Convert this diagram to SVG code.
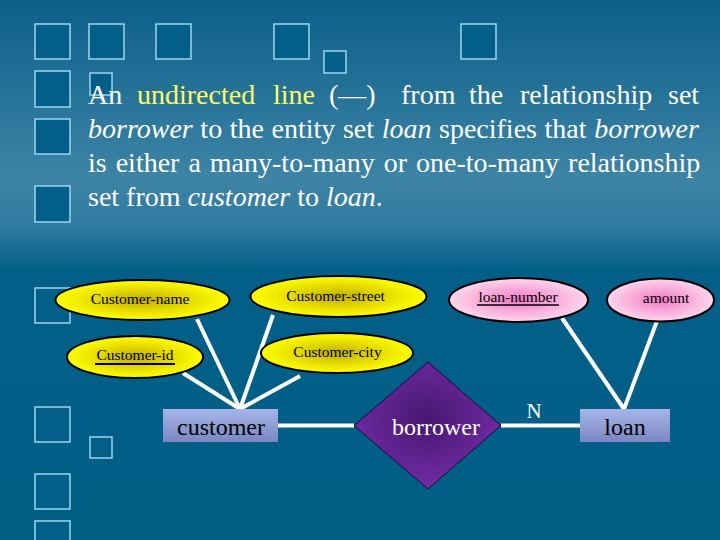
<svg xmlns="http://www.w3.org/2000/svg" width="720" height="540" viewBox="0 0 720 540">
<defs>
<linearGradient id="bg" x1="0" y1="0" x2="0" y2="1">
<stop offset="0" stop-color="#0c5f8a"/>
<stop offset="0.33" stop-color="#3d84a5"/>
<stop offset="0.42" stop-color="#2f7aa0"/>
<stop offset="0.5" stop-color="#035f88"/>
<stop offset="1" stop-color="#005e85"/>
</linearGradient>
<radialGradient id="yel" cx="0.5" cy="0.5" r="0.5">
<stop offset="0" stop-color="#bfae00"/>
<stop offset="0.55" stop-color="#e6dc00"/>
<stop offset="1" stop-color="#ffff00"/>
</radialGradient>
<radialGradient id="pink" cx="0.5" cy="0.5" r="0.5">
<stop offset="0" stop-color="#f07ac4"/>
<stop offset="1" stop-color="#ffd6ec"/>
</radialGradient>
<radialGradient id="purp" cx="0.5" cy="0.45" r="0.5">
<stop offset="0" stop-color="#471670"/>
<stop offset="1" stop-color="#6e2aa0"/>
</radialGradient>
<linearGradient id="ent" x1="0" y1="0" x2="0" y2="1">
<stop offset="0" stop-color="#a6b6e8"/>
<stop offset="1" stop-color="#7a86c2"/>
</linearGradient>
<style>
.sq{fill:#035e88;stroke:#9ad6f2;stroke-width:1.5}
.body{font-family:"Liberation Serif","Times New Roman",serif;font-size:28px;fill:#ffffff}
.it{font-style:italic}
.attr{font-family:"Liberation Serif","Times New Roman",serif;font-size:15.5px;fill:#000000;text-anchor:middle}
.yel{fill:url(#yel);stroke:#000;stroke-width:2}
.pink{fill:url(#pink);stroke:#000;stroke-width:2}
.ent{fill:url(#ent)}
.big{font-family:"Liberation Serif","Times New Roman",serif;font-size:24px;text-anchor:middle}
.edge{stroke:#ffffff;stroke-width:4;fill:none}
</style>
</defs>
<rect width="720" height="540" fill="url(#bg)"/>
<g id="decor">
<rect class="sq" x="35" y="24" width="35" height="35"/>
<rect class="sq" x="89" y="24" width="35" height="35"/>
<rect class="sq" x="156" y="24" width="35" height="35"/>
<rect class="sq" x="274" y="24" width="35" height="35"/>
<rect class="sq" x="461" y="24" width="35" height="35"/>
<rect class="sq" x="324" y="51" width="22" height="22"/>
<rect class="sq" x="35" y="71" width="35" height="36"/>
<rect class="sq" x="90" y="73" width="22" height="22"/>
<rect class="sq" x="35" y="119" width="35" height="35"/>
<rect class="sq" x="35" y="186" width="35" height="36"/>
<rect class="sq" x="35" y="288" width="35" height="35"/>
<rect class="sq" x="35" y="407" width="35" height="35"/>
<rect class="sq" x="90" y="437" width="22" height="21"/>
<rect class="sq" x="35" y="474" width="35" height="35"/>
<rect class="sq" x="35" y="521" width="35" height="35"/>
</g>
<g id="caption" class="body">
<text y="104"><tspan x="88">An</tspan><tspan x="137" fill="#ffff66">undirected</tspan><tspan x="273" fill="#ffff66">line</tspan><tspan x="329">(—)</tspan><tspan x="401">from</tspan><tspan x="469">the</tspan><tspan x="520">relationship</tspan><tspan x="668">set</tspan></text>
<text x="88" y="138" word-spacing="0.6"><tspan class="it">borrower</tspan> to the entity set <tspan class="it">loan</tspan> specifies that <tspan class="it">borrower</tspan></text>
<text x="88" y="172" word-spacing="2">is either a many-to-many or one-to-many relationship</text>
<text x="88" y="206">set from <tspan class="it">customer</tspan> to <tspan class="it">loan</tspan>.</text>
</g>
<g id="connectors" class="edge">
<line x1="197" y1="319" x2="240" y2="409"/>
<line x1="273" y1="315" x2="240" y2="409"/>
<line x1="183" y1="373" x2="240" y2="409"/>
<line x1="300" y1="376" x2="240" y2="409"/>
<line x1="278" y1="425.5" x2="354" y2="425.5"/>
<line x1="501" y1="425.5" x2="580" y2="425.5"/>
<line x1="562" y1="318" x2="624" y2="409"/>
<line x1="657" y1="321" x2="624" y2="409"/>
</g>
<g id="customer-name">
<ellipse class="yel" cx="142.5" cy="300" rx="87" ry="20"/>
<text class="attr" x="140" y="304">Customer-name</text>
</g>
<g id="customer-street">
<ellipse class="yel" cx="338.5" cy="296.5" rx="88" ry="20.5"/>
<text class="attr" x="335.5" y="300.5">Customer-street</text>
</g>
<g id="customer-id">
<ellipse class="yel" cx="135" cy="357" rx="68" ry="21"/>
<text class="attr" x="135" y="360">Customer-id</text>
<line x1="95" y1="364" x2="175" y2="364" stroke="#000" stroke-width="2"/>
</g>
<g id="customer-city">
<ellipse class="yel" cx="337" cy="353" rx="76" ry="20"/>
<text class="attr" x="337.5" y="357">Customer-city</text>
</g>
<g id="loan-number">
<ellipse class="pink" cx="518.5" cy="300" rx="69.5" ry="22"/>
<text class="attr" x="518" y="302">loan-number</text>
<line x1="477" y1="305" x2="559" y2="305" stroke="#000" stroke-width="1.5"/>
</g>
<g id="amount">
<ellipse class="pink" cx="660.5" cy="300" rx="53.5" ry="21.5"/>
<text class="attr" x="666" y="303">amount</text>
</g>
<g id="customer">
<rect class="ent" x="163" y="409" width="115" height="33"/>
<text class="big" x="221" y="435" fill="#000">customer</text>
</g>
<g id="borrower">
<polygon points="428,362 501,425.5 428,489 354,425.5" fill="url(#purp)" stroke="#1a0830" stroke-width="1"/>
<text class="big" x="436" y="435" fill="#ffffff">borrower</text>
</g>
<g id="loan">
<rect class="ent" x="580" y="409" width="90" height="33"/>
<text class="big" x="625" y="435" fill="#000">loan</text>
</g>
<g id="labels">
<text x="534" y="418" font-family="Liberation Serif, Times New Roman, serif" font-size="21" fill="#ffffff" text-anchor="middle">N</text>
</g>
</svg>
